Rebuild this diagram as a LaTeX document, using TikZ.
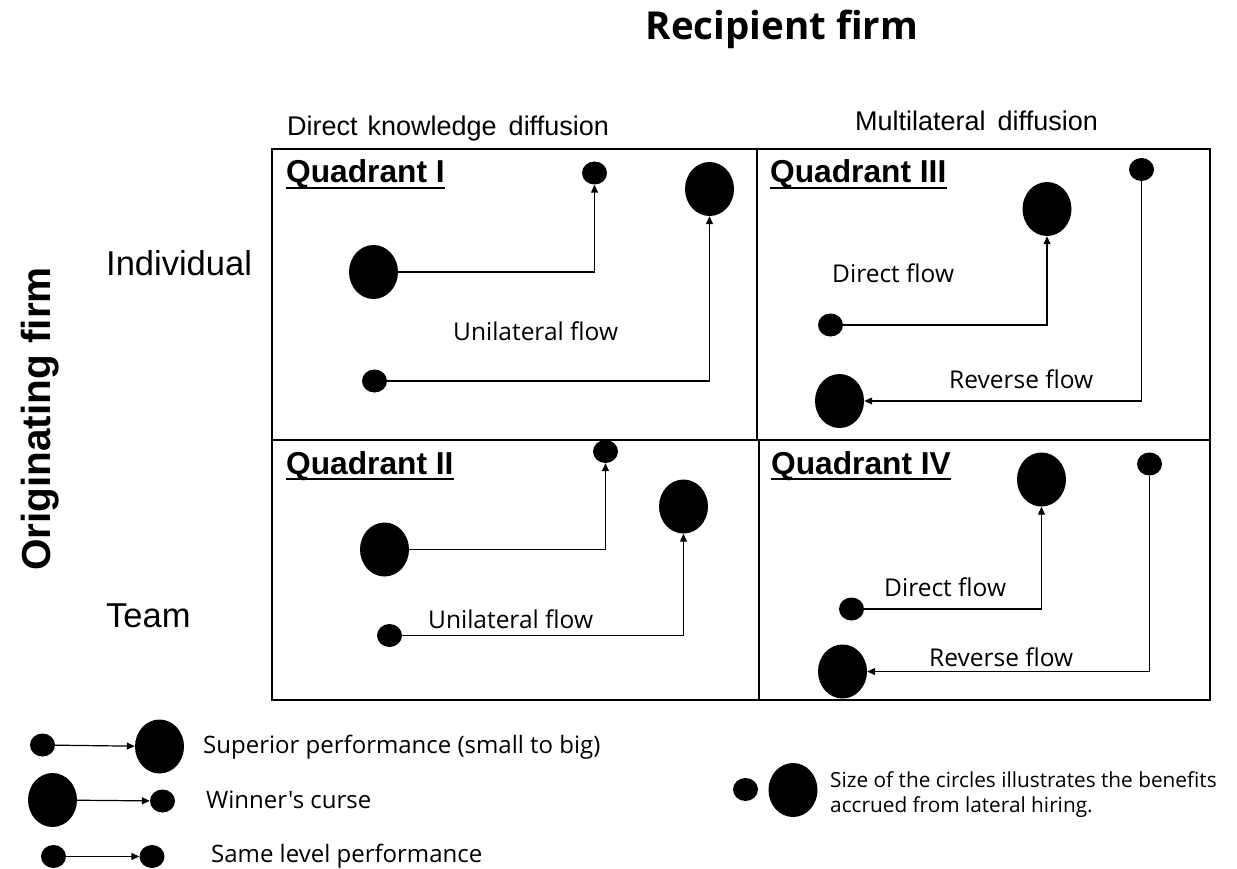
\documentclass[tikz,border=0pt]{standalone}
\usepackage{fontspec}
\setmainfont{Liberation Sans}
\newfontfamily\osans{Open Sans}
\usetikzlibrary{shapes.geometric,arrows.meta}
\tikzset{
  dot/.style={ellipse,fill=black,draw=none,inner sep=0pt},
  sdot/.style={dot,minimum width=25pt,minimum height=23pt},
  bdot/.style={dot,minimum width=49pt,minimum height=54pt},
  arr/.style={line width=1.2pt,-{Triangle[length=8pt,width=7pt]}},
  quad/.style={anchor=base west,inner sep=0pt,font=\fontsize{31.7}{36}\selectfont\bfseries},
  uline/.style={line width=2pt},
  flow/.style={anchor=base west,inner sep=0pt,font=\osans\fontsize{24.5}{29}\selectfont},
  axis/.style={anchor=base west,inner sep=0pt,font=\fontsize{27}{32}\selectfont},
  rowlab/.style={anchor=base west,inner sep=0pt,font=\fontsize{34.5}{40}\selectfont},
  leg/.style={anchor=base west,inner sep=0pt,font=\osans\fontsize{24}{28}\selectfont},
  boxline/.style={line width=1.3pt}
}
\begin{document}
\begin{tikzpicture}[x=1pt,y=-1pt]
\useasboundingbox (0,0) rectangle (1237,869);
% titles
\node[anchor=base,inner sep=0pt,font=\osans\fontsize{38.5}{44}\selectfont\bfseries] (rec) at (782,40) {Recipient firm};
\node[anchor=base,inner sep=0pt,rotate=90,font=\fontsize{40.5}{46}\selectfont\bfseries] (orig) at (50,419) {Originating firm};
\node[axis] (ckd) at (287,136) {Direct\hspace{10pt}knowledge\hspace{12pt}diffusion};
\node[axis] (cmd) at (855,131) {Multilateral\hspace{12pt}diffusion};
\node[rowlab] (rind) at (106,275) {Individual};
\node[rowlab] (rteam) at (106,627) {Team};
% quadrant frames
\draw[boxline] (272,149) rectangle (1210,700);
\draw[boxline] (757,149) -- (757,440);
\draw[boxline] (759,440) -- (759,700);
\draw[boxline] (272,440) -- (1210,440);
% Quadrant I
\node[quad] (q1) at (286,183) {Quadrant I};
\draw[uline] ([yshift=-5pt]q1.base west) -- ([yshift=-5pt]q1.base east);
\node[sdot] (a1) at (594.5,173) {};
\node[bdot] (a2) at (709.5,189) {};
\node[bdot] (a3) at (373.5,272) {};
\node[sdot] (a4) at (374.5,381) {};
\draw[arr] (a3.east) -| (a1.south);
\draw[arr] (a4.east) -| (a2.south);
\node[flow] (f1) at (453,340) {Unilateral flow};
% Quadrant III
\node[quad] (q3) at (770,183) {Quadrant III};
\draw[uline] ([yshift=-5pt]q3.base west) -- ([yshift=-5pt]q3.base east);
\node[sdot] (c1) at (1141.5,169.5) {};
\node[bdot] (c2) at (1047,209) {};
\node[sdot] (c3) at (830.5,325) {};
\node[bdot] (c4) at (839.5,401) {};
\draw[arr] (c3.east) -| (c2.south);
\draw[arr] (c1.south) |- (c4.east);
\node[flow] (f3a) at (832,283) {Direct flow};
\node[flow] (f3b) at (949,388) {Reverse flow};
% Quadrant II
\node[quad] (q2) at (286,474) {Quadrant II};
\draw[uline] ([yshift=-5pt]q2.base west) -- ([yshift=-5pt]q2.base east);
\node[sdot] (b1) at (605.5,451.5) {};
\node[bdot] (b2) at (683.5,506.5) {};
\node[bdot] (b3) at (384.5,549.5) {};
\node[sdot] (b4) at (389.5,635.5) {};
\draw[arr] (b3.east) -| (b1.south);
\draw[arr] (b4.east) -| (b2.south);
\node[flow] (f2) at (428,628) {Unilateral flow};
% Quadrant IV
\node[quad] (q4) at (771,474) {Quadrant IV};
\draw[uline] ([yshift=-5pt]q4.base west) -- ([yshift=-5pt]q4.base east);
\node[bdot] (d1) at (1041.5,479.5) {};
\node[sdot] (d2) at (1149.5,464) {};
\node[sdot] (d3) at (851.5,609) {};
\node[bdot] (d4) at (842.5,671.5) {};
\draw[arr] (d3.east) -| (d1.south);
\draw[arr] (d2.south) |- (d4.east);
\node[flow] (f4a) at (884,596) {Direct flow};
\node[flow] (f4b) at (929,666) {Reverse flow};
% Legend left
\node[sdot] (l1a) at (42.5,745) {};
\node[bdot] (l1b) at (159.5,746.5) {};
\draw[arr] (l1a) -- (l1b);
\node[leg] (t1) at (203,753) {Superior performance (small to big)};
\node[bdot] (l2a) at (52.5,800) {};
\node[sdot] (l2b) at (162.5,801) {};
\draw[arr] (l2a) -- (l2b);
\node[leg] (t2) at (206,808) {Winner's curse};
\node[sdot] (l3a) at (53.5,856.5) {};
\node[sdot] (l3b) at (152,856.5) {};
\draw[arr] (l3a) -- (l3b);
\node[leg] (t3) at (211,862) {Same level performance};
% Legend right
\node[sdot] (r1) at (745.5,789.5) {};
\node[bdot] (r2) at (793,790) {};
\node[leg,font=\osans\fontsize{20.8}{25}\selectfont,align=left,anchor=west] (t4) at (830,795) {Size of the circles illustrates the benefits\\accrued from lateral hiring.};
\end{tikzpicture}
\end{document}
